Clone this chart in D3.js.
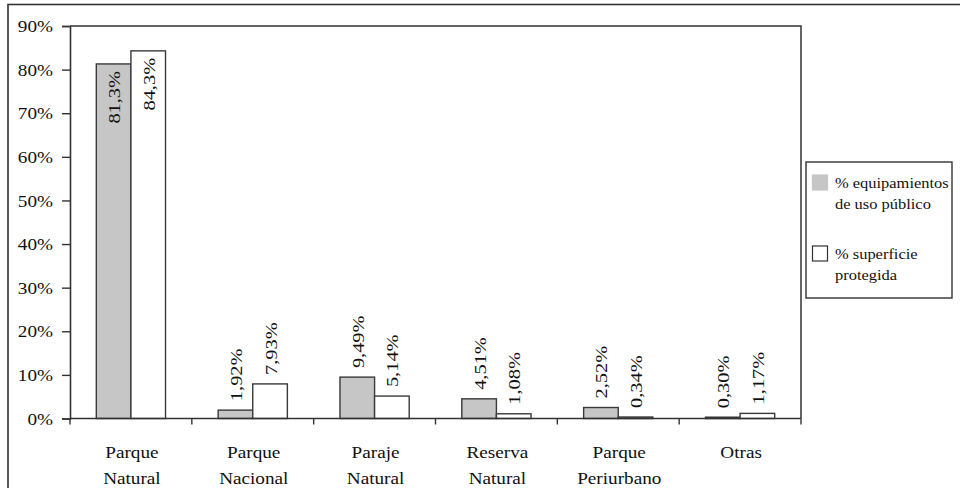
<!DOCTYPE html>
<html>
<head>
<meta charset="utf-8">
<script src="https://cdn.jsdelivr.net/npm/d3@7"></script>
<style>
  html, body { margin: 0; padding: 0; background: #fff; }
  svg { display: block; }
</style>
</head>
<body>
<svg id="chart" width="960" height="488"></svg>
<script>
// Figures per category of protected area
const categories = [["Parque", "Natural"], ["Parque", "Nacional"], ["Paraje", "Natural"],
                    ["Reserva", "Natural"], ["Parque", "Periurbano"], ["Otras"]];
const equipamientos = [81.3, 1.92, 9.49, 4.51, 2.52, 0.30];
const superficie = [84.3, 7.93, 5.14, 1.08, 0.34, 1.17];
const equipLabels = ["81,3%", "1,92%", "9,49%", "4,51%", "2,52%", "0,30%"];
const superLabels = ["84,3%", "7,93%", "5,14%", "1,08%", "0,34%", "1,17%"];
const yTicks = [0, 10, 20, 30, 40, 50, 60, 70, 80, 90];
const seriesNames = [["% equipamientos", "de uso público"], ["% superficie", "protegida"]];

const FONT = "Liberation Serif";
const INK = "#111";
const svg = d3.select("#chart").attr("font-family", FONT);
const SX = 1.2; // wide set of the serif face

const plot = { left: 70, right: 801, top: 26, bottom: 418.5 };

// outer frame
svg.append("rect").attr("x", 8).attr("y", 4.5).attr("width", 1000).attr("height", 600)
  .attr("fill", "none").attr("stroke", "#333").attr("stroke-width", 1.6);

const x = d3.scaleBand().domain(d3.range(categories.length))
  .range([plot.left, plot.right]).paddingInner(0).paddingOuter(0);
const inner = d3.scaleBand().domain([0, 1]).range([0, x.bandwidth()])
  .paddingOuter(0.76).paddingInner(0);
const y = d3.scaleLinear().domain([0, 90]).range([plot.bottom, plot.top]);

// plot frame top and right
svg.append("path")
  .attr("d", `M${plot.left},${plot.top}H${plot.right}V${plot.bottom}`)
  .attr("fill", "none").attr("stroke", "#333").attr("stroke-width", 1.5);

// bars
const series = [
  { vals: equipamientos, labels: equipLabels, fill: "#c6c6c6" },
  { vals: superficie, labels: superLabels, fill: "#ffffff" }
];
series.forEach((s, si) => {
  const g = svg.append("g");
  g.selectAll("rect").data(s.vals).join("rect")
    .attr("x", (d, i) => x(i) + inner(si))
    .attr("y", d => y(d))
    .attr("width", inner.bandwidth())
    .attr("height", d => plot.bottom - y(d))
    .attr("fill", s.fill).attr("stroke", "#3a3a3a").attr("stroke-width", 1.4);
  g.selectAll("text").data(s.vals).join("text")
    .attr("transform", (d, i) => {
      const cx = x(i) + inner(si) + inner.bandwidth() / 2 + 0.5;
      const inside = d > 50;
      const yy = inside ? y(d) + 7 : y(d) - 9;
      return `translate(${cx},${yy}) rotate(-90) scale(${SX},1)`;
    })
    .attr("text-anchor", d => d > 50 ? "end" : "start")
    .attr("dy", "0.35em")
    .attr("font-size", "17px").attr("font-family", FONT).attr("fill", INK)
    .text((d, i) => s.labels[i]);
});

// y axis
const yAxis = svg.append("g").attr("transform", `translate(${plot.left},0)`)
  .call(d3.axisLeft(y).tickValues(yTicks).tickSize(8).tickFormat(d => d + "%"));
yAxis.attr("font-family", FONT);
yAxis.select(".domain").attr("stroke", "#333").attr("stroke-width", 1.6);
yAxis.selectAll(".tick line").attr("stroke", "#333").attr("stroke-width", 1.4);
yAxis.selectAll(".tick text")
  .attr("x", null).attr("dy", "0.35em")
  .attr("transform", `translate(-17,0) scale(${SX},1)`)
  .attr("font-size", "16px").attr("font-family", FONT).attr("fill", INK);

// x axis
const xAxis = svg.append("g").attr("transform", `translate(0,${plot.bottom})`);
xAxis.append("line").attr("x1", plot.left).attr("x2", plot.right)
  .attr("stroke", "#333").attr("stroke-width", 1.6);
xAxis.selectAll("line.tk").data(d3.range(categories.length + 1)).join("line")
  .attr("class", "tk")
  .attr("x1", i => i < categories.length ? x(i) : plot.right)
  .attr("x2", i => i < categories.length ? x(i) : plot.right)
  .attr("y1", 0).attr("y2", 6).attr("stroke", "#333").attr("stroke-width", 1.4);
const catLbl = xAxis.selectAll("g.cat").data(categories).join("g").attr("class", "cat")
  .attr("transform", (d, i) => `translate(${x(i) + x.bandwidth() / 2 + 1},0)`);
catLbl.selectAll("text").data(d => d).join("text")
  .attr("transform", (d, j) => `translate(0,${39 + j * 26.5}) scale(${SX},1)`)
  .attr("text-anchor", "middle").attr("font-size", "16px")
  .attr("font-family", FONT).attr("fill", INK)
  .text(d => d);

// legend
const lg = svg.append("g");
lg.append("rect").attr("x", 806).attr("y", 162).attr("width", 146).attr("height", 136)
  .attr("fill", "#fff").attr("stroke", "#333").attr("stroke-width", 1.4);
const legY = [175, 246];
const legFill = ["#c6c6c6", "#ffffff"];
const legStroke = ["#c6c6c6", "#333"];
seriesNames.forEach((lines, k) => {
  lg.append("rect").attr("x", 812.5).attr("y", legY[k]).attr("width", 15).attr("height", 15)
    .attr("fill", legFill[k]).attr("stroke", legStroke[k]).attr("stroke-width", 1.2);
  lines.forEach((t, j) => {
    lg.append("text")
      .attr("transform", `translate(835,${legY[k] + 13 + j * 21}) scale(${SX},1)`)
      .attr("font-size", "13.7px").attr("font-family", FONT).attr("fill", INK).text(t);
  });
});
</script>
</body>
</html>
